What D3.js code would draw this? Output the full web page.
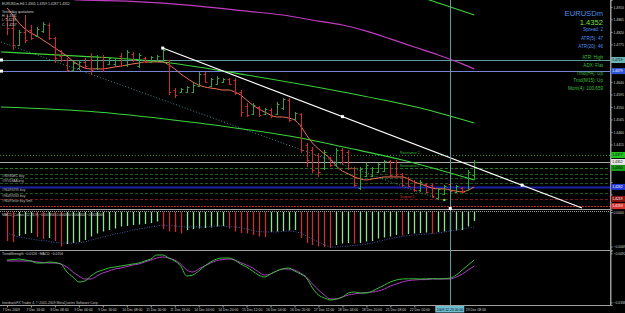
<!DOCTYPE html>
<html>
<head>
<meta charset="utf-8">
<script src="https://cdn.jsdelivr.net/npm/d3@7"></script>
<style>
  body { margin: 0; background: #000; overflow: hidden; }
  svg { display: block; }
  text { font-family: "Liberation Sans", Arial, sans-serif; }
</style>
</head>
<body>
<div id="chart"></div>
<script>
// EURUSDm H4 bars, 7 Dec - 23 Dec 2009
const barOpen = [
  1.4870, 1.4834, 1.4773, 1.4820, 1.4827, 1.4805, 1.4823, 1.4845, 1.4798, 1.4733,
  1.4719, 1.4683, 1.4690, 1.4712, 1.4719, 1.4690, 1.4730, 1.4705, 1.4705, 1.4733,
  1.4701, 1.4741, 1.4697, 1.4726, 1.4712, 1.4719, 1.4719, 1.4719, 1.4611, 1.4604,
  1.4604, 1.4604, 1.4625, 1.4669, 1.4625, 1.4633, 1.4640, 1.4651, 1.4647, 1.4604,
  1.4553, 1.4525, 1.4550, 1.4525, 1.4539, 1.4525, 1.4546, 1.4575, 1.4507, 1.4525,
  1.4413, 1.4395, 1.4377, 1.4330, 1.4366, 1.4341, 1.4395, 1.4388, 1.4330, 1.4258,
  1.4301, 1.4301, 1.4316, 1.4319, 1.4355, 1.4352, 1.4309, 1.4294, 1.4283, 1.4251,
  1.4273, 1.4269, 1.4222, 1.4237, 1.4273, 1.4244, 1.4258, 1.4251, 1.4305
];
const barHigh = [
  1.4881, 1.4881, 1.4827, 1.4881, 1.4845, 1.4838, 1.4856, 1.4852, 1.4802, 1.4755,
  1.4726, 1.4712, 1.4719, 1.4726, 1.4744, 1.4737, 1.4737, 1.4730, 1.4726, 1.4744,
  1.4755, 1.4748, 1.4744, 1.4730, 1.4733, 1.4737, 1.4762, 1.4719, 1.4618, 1.4618,
  1.4625, 1.4636, 1.4676, 1.4676, 1.4654, 1.4661, 1.4654, 1.4654, 1.4654, 1.4611,
  1.4564, 1.4564, 1.4553, 1.4546, 1.4546, 1.4568, 1.4582, 1.4582, 1.4532, 1.4528,
  1.4420, 1.4406, 1.4384, 1.4395, 1.4370, 1.4402, 1.4402, 1.4395, 1.4334, 1.4334,
  1.4348, 1.4334, 1.4348, 1.4359, 1.4359, 1.4359, 1.4312, 1.4298, 1.4287, 1.4287,
  1.4276, 1.4276, 1.4258, 1.4269, 1.4276, 1.4269, 1.4262, 1.4323, 1.4359
];
const barLow = [
  1.4809, 1.4755, 1.4769, 1.4780, 1.4791, 1.4802, 1.4816, 1.4791, 1.4708, 1.4712,
  1.4676, 1.4676, 1.4683, 1.4690, 1.4665, 1.4683, 1.4676, 1.4701, 1.4697, 1.4694,
  1.4694, 1.4712, 1.4690, 1.4708, 1.4708, 1.4712, 1.4712, 1.4593, 1.4582, 1.4600,
  1.4600, 1.4600, 1.4622, 1.4636, 1.4622, 1.4629, 1.4636, 1.4629, 1.4593, 1.4514,
  1.4514, 1.4521, 1.4514, 1.4521, 1.4510, 1.4521, 1.4539, 1.4496, 1.4503, 1.4384,
  1.4334, 1.4312, 1.4298, 1.4323, 1.4334, 1.4334, 1.4341, 1.4323, 1.4262, 1.4251,
  1.4298, 1.4298, 1.4312, 1.4316, 1.4298, 1.4298, 1.4262, 1.4262, 1.4244, 1.4244,
  1.4240, 1.4222, 1.4215, 1.4233, 1.4244, 1.4240, 1.4240, 1.4251, 1.4287
];
const barClose = [
  1.4834, 1.4773, 1.4820, 1.4791, 1.4798, 1.4831, 1.4849, 1.4798, 1.4726, 1.4719,
  1.4683, 1.4708, 1.4712, 1.4697, 1.4683, 1.4730, 1.4690, 1.4726, 1.4719, 1.4701,
  1.4748, 1.4719, 1.4737, 1.4712, 1.4730, 1.4733, 1.4755, 1.4604, 1.4593, 1.4615,
  1.4622, 1.4629, 1.4669, 1.4640, 1.4651, 1.4654, 1.4651, 1.4633, 1.4600, 1.4532,
  1.4521, 1.4557, 1.4521, 1.4543, 1.4517, 1.4561, 1.4579, 1.4503, 1.4528, 1.4395,
  1.4359, 1.4323, 1.4316, 1.4388, 1.4341, 1.4395, 1.4352, 1.4330, 1.4269, 1.4327,
  1.4341, 1.4330, 1.4345, 1.4355, 1.4305, 1.4309, 1.4269, 1.4265, 1.4251, 1.4280,
  1.4244, 1.4229, 1.4255, 1.4265, 1.4247, 1.4265, 1.4244, 1.4316, 1.4352
];
// fast moving average (salmon line)
const maFast = [
  1.4906, 1.4881, 1.4852, 1.4831, 1.4816, 1.4805, 1.4791, 1.4777, 1.4762, 1.4748,
  1.4733, 1.4715, 1.4701, 1.4690, 1.4687, 1.4687, 1.4687, 1.4690, 1.4694, 1.4697,
  1.4701, 1.4705, 1.4708, 1.4712, 1.4712, 1.4712, 1.4712, 1.4701, 1.4687, 1.4669,
  1.4654, 1.4640, 1.4629, 1.4622, 1.4618, 1.4615, 1.4611, 1.4611, 1.4604, 1.4593,
  1.4575, 1.4557, 1.4543, 1.4532, 1.4521, 1.4514, 1.4514, 1.4510, 1.4503, 1.4482,
  1.4449, 1.4420, 1.4399, 1.4381, 1.4363, 1.4337, 1.4319, 1.4309, 1.4298, 1.4291,
  1.4287, 1.4291, 1.4294, 1.4298, 1.4298, 1.4298, 1.4298, 1.4291, 1.4280, 1.4273,
  1.4265, 1.4258, 1.4255, 1.4255, 1.4251, 1.4247, 1.4244, 1.4251, 1.4262
];
// slow average (magenta) and the green lines, given at a few bars
const slowBars = [8, 12, 20, 26, 32, 40, 46, 52, 56, 60, 64, 68, 72, 76, 78];
const slowVals = [1.4950, 1.4935, 1.4931, 1.4924, 1.4913, 1.4895, 1.4881, 1.4859, 1.4845, 1.4823, 1.4795, 1.4766, 1.4737, 1.4705, 1.4687];
const topGreenBars = [66, 70, 74, 78];
const topGreenVals = [1.4971, 1.4939, 1.4910, 1.4881];
const midGreenBars = [-1, 12, 26, 40, 57, 69, 78];
const midGreenVals = [1.4748, 1.4733, 1.4712, 1.4665, 1.4600, 1.4546, 1.4492];
const lowGreenBars = [-1, 15, 32, 49, 57, 66, 78];
const lowGreenVals = [1.4550, 1.4532, 1.4492, 1.4438, 1.4402, 1.4359, 1.4287];
const dotLineBars = [-1, 72];
const dotLineVals = [1.4784, 1.4219];
const trendBars = [26, 96];
const trendVals = [1.4762, 1.4186];
const trendMarks = [26, 56, 86];

// horizontal levels
const levelPrices = [1.4719, 1.4679, 1.4377, 1.4352, 1.4330, 1.4309, 1.4294, 1.4276, 1.4262, 1.4240, 1.4219, 1.4193];
const levelKinds = ['hiY', 'loY', 'r2', 'bid', 'r1', 'order', 'order', 'order', 'pivot', 'order', 's1', 'sl'];
const leftNotes = ['', '', '', '', '', '#96930EC buy', '#97018AA buy', '', '#96499295 buy', '#96499263 buy', '#9649 blue buy limit', ''];
const rightNotes = ['', '', 'Resistance 2', '', 'Resistance 1', '', '', '', '', '', 'Support 1', ''];
const boxKinds = ['hiY', 'loY', 'r2', 'bid', 'r1', 'pivot', 's1', 'sl'];

const priceTicks = [1.4910, 1.4865, 1.4820, 1.4775, 1.4730, 1.4685, 1.4640, 1.4595, 1.4550, 1.4505, 1.4460, 1.4415, 1.4370, 1.4325, 1.4280, 1.4235, 1.4190];

// MACD_Colour histogram and signal
const macdHist = [
  -0.0058, -0.0060, -0.0048, -0.0044, -0.0042, -0.0050, -0.0054, -0.0052, -0.0058, -0.0069,
  -0.0064, -0.0062, -0.0060, -0.0056, -0.0049, -0.0043, -0.0039, -0.0036, -0.0033, -0.0029,
  -0.0028, -0.0026, -0.0025, -0.0024, -0.0022, -0.0019, -0.0034, -0.0039, -0.0040, -0.0043,
  -0.0036, -0.0034, -0.0033, -0.0032, -0.0031, -0.0029, -0.0028, -0.0033, -0.0039, -0.0042,
  -0.0043, -0.0046, -0.0049, -0.0050, -0.0040, -0.0039, -0.0038, -0.0037, -0.0036, -0.0052,
  -0.0062, -0.0066, -0.0069, -0.0070, -0.0072, -0.0066, -0.0063, -0.0062, -0.0063, -0.0062,
  -0.0059, -0.0058, -0.0053, -0.0051, -0.0049, -0.0046, -0.0047, -0.0044, -0.0043, -0.0042,
  -0.0041, -0.0043, -0.0040, -0.0039, -0.0038, -0.0037, -0.0036, -0.0029, -0.0018
];
const macdSignal = [
  -0.0042, -0.0046, -0.0050, -0.0052, -0.0054, -0.0056, -0.0057, -0.0059, -0.0061, -0.0062,
  -0.0062, -0.0062, -0.0062, -0.0060, -0.0056, -0.0053, -0.0050, -0.0047, -0.0044, -0.0042,
  -0.0039, -0.0036, -0.0034, -0.0032, -0.0030, -0.0028, -0.0026, -0.0027, -0.0028, -0.0029,
  -0.0030, -0.0030, -0.0030, -0.0030, -0.0029, -0.0028, -0.0028, -0.0029, -0.0030, -0.0031,
  -0.0034, -0.0037, -0.0039, -0.0040, -0.0040, -0.0040, -0.0039, -0.0038, -0.0039, -0.0042,
  -0.0048, -0.0054, -0.0060, -0.0066, -0.0070, -0.0070, -0.0069, -0.0068, -0.0067, -0.0066,
  -0.0064, -0.0062, -0.0059, -0.0056, -0.0053, -0.0051, -0.0049, -0.0047, -0.0046, -0.0045,
  -0.0044, -0.0043, -0.0042, -0.0040, -0.0038, -0.0036, -0.0034, -0.0032, -0.0030
];
const macdTicks = [0, -0.0069];

// TrendStrength panel
const trendStrength = [
  -0.0126, -0.0124, -0.0121, -0.0126, -0.0131, -0.0141, -0.0141, -0.0136, -0.0139, -0.0146,
  -0.0186, -0.0211, -0.0236, -0.0231, -0.0206, -0.0186, -0.0176, -0.0166, -0.0161, -0.0156,
  -0.0151, -0.0146, -0.0141, -0.0131, -0.0121, -0.0101, -0.0101, -0.0116, -0.0131, -0.0156,
  -0.0206, -0.0201, -0.0181, -0.0156, -0.0136, -0.0121, -0.0116, -0.0116, -0.0126, -0.0146,
  -0.0161, -0.0181, -0.0201, -0.0211, -0.0196, -0.0181, -0.0171, -0.0166, -0.0181, -0.0196,
  -0.0216, -0.0266, -0.0301, -0.0316, -0.0326, -0.0321, -0.0311, -0.0291, -0.0286, -0.0291,
  -0.0291, -0.0281, -0.0266, -0.0251, -0.0236, -0.0226, -0.0221, -0.0220, -0.0220, -0.0221,
  -0.0220, -0.0219, -0.0220, -0.0219, -0.0216, -0.0201, -0.0176, -0.0151, -0.0126
];
const trendMacd = [
  -0.0131, -0.0131, -0.0131, -0.0131, -0.0131, -0.0136, -0.0139, -0.0141, -0.0141, -0.0146,
  -0.0161, -0.0186, -0.0206, -0.0221, -0.0221, -0.0206, -0.0191, -0.0181, -0.0171, -0.0166,
  -0.0159, -0.0151, -0.0146, -0.0136, -0.0126, -0.0116, -0.0111, -0.0116, -0.0126, -0.0146,
  -0.0176, -0.0186, -0.0171, -0.0156, -0.0141, -0.0129, -0.0124, -0.0121, -0.0126, -0.0139,
  -0.0151, -0.0166, -0.0186, -0.0201, -0.0196, -0.0181, -0.0171, -0.0171, -0.0176, -0.0191,
  -0.0211, -0.0246, -0.0276, -0.0301, -0.0321, -0.0321, -0.0311, -0.0301, -0.0296, -0.0291,
  -0.0289, -0.0286, -0.0281, -0.0271, -0.0256, -0.0246, -0.0236, -0.0229, -0.0226, -0.0224,
  -0.0224, -0.0221, -0.0221, -0.0221, -0.0221, -0.0211, -0.0196, -0.0176, -0.0156
];
const trendTicks = [-0.0092, -0.0338];

// time axis
const timeTickBars = [0, 4, 8, 12, 16, 20, 24, 28, 32, 36, 40, 44, 48, 52, 56, 60, 64, 68, 72, 76];
const timeTickLabels = ['7 Dec 2009', '7 Dec 16:00', '8 Dec 08:00', '9 Dec 00:00', '9 Dec 16:00', '10 Dec 08:00',
  '11 Dec 00:00', '11 Dec 16:00', '14 Dec 04:00', '14 Dec 20:00', '15 Dec 12:00', '16 Dec 04:00', '16 Dec 20:00',
  '17 Dec 12:00', '18 Dec 04:00', '18 Dec 20:00', '21 Dec 08:00', '22 Dec 00:00', '22 Dec 16:00', '23 Dec 08:00'];
const cursorBar = 74;
const cursorLabel = '2009.12.23 00:00';

const yesterdayLines = ['Yesterday quotations:', 'H: 1.4331', 'L: 1.4218', 'C: 1.4257'];
const infoLines = ['Spread: 2', 'ATR(5): 47', 'ATR(20): 46'];
const statusLines = ['ATR: High', 'ADX: Flat', 'Trnd(H4): Up', 'Trnd(M15): Up', 'Mom(4): 100.659'];

const W = 625, H = 313, axisX = 610;
const upColor = '#34a534', downColor = '#d42a2a';
const small = 3.4;
const crisp = v => Math.round(v) + 0.5;
const f4 = d3.format('.4f');

const x = d3.scaleLinear().domain([0, 100]).range([7, 606]);
const priceY = d3.scaleLinear().domain([1.4179, 1.4935]).range([210, 0]);
const macdY = d3.scaleLinear().domain([-0.0076, 0]).range([250, 212]);
const trendY = d3.scaleLinear().domain([-0.0351, -0.0081]).range([305, 251]);

const svg = d3.select('#chart').append('svg').attr('width', W).attr('height', H);
svg.append('rect').attr('width', W).attr('height', H).attr('fill', '#000');

const defs = svg.append('defs');
function addClip(id, y0, h) {
    defs.append('clipPath').attr('id', id).append('rect')
        .attr('x', 0).attr('y', y0).attr('width', axisX).attr('height', h);
}
addClip('cMain', 0, 209);
addClip('cMacd', 211, 39);
addClip('cTrend', 251, 54);

const pairs = (bars, vals) => bars.map((b, k) => [b, vals[k]]);
const lineOf = (scale) => d3.line().x(d => x(d[0])).y(d => scale(d[1]));
const allBars = d3.range(barClose.length);

// ---------- price window ----------
const main = svg.append('g').attr('clip-path', 'url(#cMain)');

const levelStyle = {
    hiY:   { stroke: '#5f9ea0', dash: null, w: 1, box: '#6cb6b6', ink: '#000' },
    loY:   { stroke: '#7482d2', dash: null, w: 1, box: '#2f55d8', ink: '#fff' },
    r2:    { stroke: '#2e8c2e', dash: '1,2', w: 1, box: '#22c422', ink: '#000', note: '#3fbf3f' },
    bid:   { stroke: '#a8a8a8', dash: null, w: 1, box: '#e6e6e6', ink: '#000' },
    r1:    { stroke: '#1f7d1f', dash: '3,2', w: 1, box: '#179a17', ink: '#000', note: '#3fbf3f' },
    order: { stroke: '#1c5a1c', dash: '3,2', w: 1 },
    pivot: { stroke: '#1c22a8', dash: null, w: 2, box: '#2438d6', ink: '#fff' },
    s1:    { stroke: '#7c1818', dash: '3,2', w: 1, box: '#8b1010', ink: '#fff', note: '#c03030' },
    sl:    { stroke: '#c42a2a', dash: '2,1', w: 1, box: '#d63434', ink: '#fff' }
};

main.selectAll('line.level')
    .data(levelPrices)
    .enter().append('line')
    .attr('class', 'level')
    .attr('x1', 0).attr('x2', axisX)
    .attr('y1', d => crisp(priceY(d))).attr('y2', d => crisp(priceY(d)))
    .attr('stroke', (d, i) => levelStyle[levelKinds[i]].stroke)
    .attr('stroke-width', (d, i) => levelStyle[levelKinds[i]].w)
    .attr('stroke-dasharray', (d, i) => levelStyle[levelKinds[i]].dash);

// object handles on the two selected lines
main.selectAll('rect.handle')
    .data(levelPrices.slice(0, 2))
    .enter().append('rect')
    .attr('x', 0).attr('y', d => priceY(d) - 1.5)
    .attr('width', 3).attr('height', 3).attr('fill', '#fff');

main.selectAll('text.lnote')
    .data(levelPrices)
    .enter().append('text')
    .attr('x', 2).attr('y', d => priceY(d) + 3.6)
    .attr('font-size', small).attr('fill', '#bdbdbd')
    .text((d, i) => leftNotes[i]);

main.selectAll('text.rnote')
    .data(levelPrices)
    .enter().append('text')
    .attr('x', 400).attr('y', d => priceY(d) - 1)
    .attr('font-size', small)
    .attr('fill', (d, i) => levelStyle[levelKinds[i]].note || '#888')
    .text((d, i) => rightNotes[i]);

main.append('path')
    .attr('d', lineOf(priceY)(pairs(dotLineBars, dotLineVals)))
    .attr('fill', 'none').attr('stroke', '#3f8f8f').attr('stroke-dasharray', '1,2');

[[topGreenBars, topGreenVals], [midGreenBars, midGreenVals], [lowGreenBars, lowGreenVals]].forEach(function (g) {
    main.append('path')
        .attr('d', lineOf(priceY).curve(d3.curveMonotoneX)(pairs(g[0], g[1])))
        .attr('fill', 'none').attr('stroke', '#3cd43c').attr('stroke-width', 1.1);
});

main.append('path')
    .attr('d', lineOf(priceY).curve(d3.curveMonotoneX)(pairs(slowBars, slowVals)))
    .attr('fill', 'none').attr('stroke', '#c23cc2').attr('stroke-width', 1.2);

main.append('path')
    .attr('d', lineOf(priceY).curve(d3.curveMonotoneX)(allBars.map(i => [i, maFast[i]])))
    .attr('fill', 'none').attr('stroke', '#f2735a').attr('stroke-width', 1);

const ohlc = main.selectAll('g.bar')
    .data(allBars)
    .enter().append('g')
    .attr('class', 'bar')
    .attr('stroke', i => barClose[i] >= barOpen[i] ? upColor : downColor)
    .attr('stroke-width', 1);
ohlc.append('line')
    .attr('x1', i => crisp(x(i))).attr('x2', i => crisp(x(i)))
    .attr('y1', i => priceY(barHigh[i])).attr('y2', i => priceY(barLow[i]));
ohlc.append('line')
    .attr('x1', i => crisp(x(i)) - 2).attr('x2', i => crisp(x(i)))
    .attr('y1', i => crisp(priceY(barOpen[i]))).attr('y2', i => crisp(priceY(barOpen[i])));
ohlc.append('line')
    .attr('x1', i => crisp(x(i))).attr('x2', i => crisp(x(i)) + 2)
    .attr('y1', i => crisp(priceY(barClose[i]))).attr('y2', i => crisp(priceY(barClose[i])));

// trend line with its anchor marks
const trendLine = d3.scaleLinear().domain(trendBars).range(trendVals);
main.append('path')
    .attr('d', lineOf(priceY)(pairs(trendBars, trendVals)))
    .attr('stroke', '#fff').attr('stroke-width', 1.2).attr('fill', 'none');
main.selectAll('rect.tmark')
    .data(trendMarks)
    .enter().append('rect')
    .attr('x', b => x(b) - 1.5).attr('y', b => priceY(trendLine(b)) - 1.5)
    .attr('width', 3).attr('height', 3).attr('fill', '#fff');

// entry arrow under bar 73
main.append('circle')
    .attr('cx', x(73)).attr('cy', priceY(barLow[73]) + 5).attr('r', 1.3).attr('fill', '#3cf03c');

// ---------- MACD window ----------
const macd = svg.append('g').attr('clip-path', 'url(#cMacd)');
macd.selectAll('line.hist')
    .data(allBars)
    .enter().append('line')
    .attr('x1', i => crisp(x(i))).attr('x2', i => crisp(x(i)))
    .attr('y1', macdY(0)).attr('y2', i => macdY(macdHist[i]))
    .attr('stroke-width', 1.3)
    .attr('stroke', i => (i > 0 && macdHist[i] > macdHist[i - 1]) ? '#8fe38f' : '#c63232');
macd.append('path')
    .attr('d', lineOf(macdY)(allBars.map(i => [i, macdSignal[i]])))
    .attr('fill', 'none').attr('stroke', '#4a58a8').attr('stroke-dasharray', '1,1.5');

// ---------- TrendStrength window ----------
const trend = svg.append('g').attr('clip-path', 'url(#cTrend)');
trend.append('path')
    .attr('d', lineOf(trendY).curve(d3.curveMonotoneX)(allBars.map(i => [i, trendMacd[i]])))
    .attr('fill', 'none').attr('stroke', '#b23cc8').attr('stroke-width', 1);
trend.append('path')
    .attr('d', lineOf(trendY).curve(d3.curveMonotoneX)(allBars.map(i => [i, trendStrength[i]])))
    .attr('fill', 'none').attr('stroke', '#38c038').attr('stroke-width', 1);

// ---------- frames ----------
svg.append('line').attr('x1', 0).attr('x2', axisX).attr('y1', 209.5).attr('y2', 209.5).attr('stroke', '#a0a0a0');
svg.append('line').attr('x1', 0).attr('x2', axisX).attr('y1', 211.5).attr('y2', 211.5)
    .attr('stroke', '#9a9a9a').attr('stroke-dasharray', '1,1');
svg.append('line').attr('x1', 0).attr('x2', axisX).attr('y1', 250.5).attr('y2', 250.5).attr('stroke', '#a0a0a0');
svg.append('line').attr('x1', 0).attr('x2', axisX).attr('y1', 305.5).attr('y2', 305.5).attr('stroke', '#a0a0a0');

// cursor
svg.append('line')
    .attr('x1', crisp(x(cursorBar))).attr('x2', crisp(x(cursorBar)))
    .attr('y1', 0).attr('y2', 305).attr('stroke', '#5f9ea0');
svg.append('rect').attr('x', x(cursorBar) - 1.5).attr('y', 207).attr('width', 3).attr('height', 3).attr('fill', '#fff');

// ---------- axes ----------
function styleAxis(g) {
    g.select('.domain').attr('stroke', '#9a9a9a');
    g.selectAll('.tick line').attr('stroke', '#9a9a9a');
    g.selectAll('.tick text').attr('fill', '#d0d0d0').attr('font-size', small)
        .attr('font-family', '"Liberation Sans", Arial, sans-serif');
}
const boxed = levelPrices.map((p, i) => i).filter(i => boxKinds.indexOf(levelKinds[i]) >= 0);
const boxYs = boxed.map(i => priceY(levelPrices[i]));

const priceAxis = svg.append('g').attr('transform', `translate(${axisX + 0.5},0)`)
    .call(d3.axisRight(priceY).tickValues(priceTicks).tickFormat(f4).tickSize(2).tickPadding(1))
    .call(styleAxis);
// tick labels hidden under the coloured price boxes
priceAxis.selectAll('.tick text')
    .filter(d => boxYs.some(by => Math.abs(by - priceY(d)) < 5.5))
    .remove();
svg.append('g').attr('transform', `translate(${axisX + 0.5},0)`)
    .call(d3.axisRight(macdY).tickValues(macdTicks).tickFormat(f4).tickSize(2).tickPadding(1))
    .call(styleAxis);
svg.append('g').attr('transform', `translate(${axisX + 0.5},0)`)
    .call(d3.axisRight(trendY).tickValues(trendTicks).tickFormat(f4).tickSize(2).tickPadding(1))
    .call(styleAxis);
svg.append('line').attr('x1', axisX + 0.5).attr('x2', axisX + 0.5).attr('y1', 0).attr('y2', 306).attr('stroke', '#9a9a9a');

const cursorLeft = x(cursorBar) - 15, cursorRight = x(cursorBar) + 14;
const timeAxis = svg.append('g').attr('transform', 'translate(0,305.5)')
    .call(d3.axisBottom(x).tickValues(timeTickBars).tickFormat((d, i) => timeTickLabels[i]).tickSize(2).tickPadding(1))
    .call(styleAxis);
timeAxis.select('.domain').remove();
timeAxis.selectAll('.tick text').attr('text-anchor', 'start').attr('dx', -5);
// labels hidden by the cursor time box: the one under it goes, the next one starts after it
timeAxis.selectAll('.tick')
    .filter(d => x(d) - 5 > cursorLeft - 20 && x(d) - 5 < cursorLeft)
    .select('text').remove();
timeAxis.selectAll('.tick text')
    .filter(d => x(d) - 5 >= cursorLeft && x(d) - 5 < cursorRight)
    .attr('dx', d => cursorRight + 1 - x(d));

// price boxes on the axis
const boxG = svg.selectAll('g.pbox').data(boxed).enter().append('g')
    .attr('transform', i => `translate(${axisX + 1},${priceY(levelPrices[i])})`);
boxG.append('rect').attr('x', 0).attr('y', -3).attr('width', 14).attr('height', 6)
    .attr('fill', i => levelStyle[levelKinds[i]].box);
boxG.append('text').attr('x', 1.2).attr('y', 1.3).attr('font-size', small)
    .attr('fill', i => levelStyle[levelKinds[i]].ink)
    .text(i => f4(levelPrices[i]));

// cursor time box
svg.append('rect').attr('x', cursorLeft).attr('y', 306).attr('width', 29).attr('height', 6.5).attr('fill', '#6cbcd2');
svg.append('text').attr('x', cursorLeft + 1.5).attr('y', 311).attr('font-size', small).attr('fill', '#000').text(cursorLabel);

// ---------- texts ----------
const last = barClose.length - 1;
svg.append('text').attr('x', 2).attr('y', 5).attr('font-size', small).attr('fill', '#d0d0d0')
    .text(`EURUSDm,H4  ${f4(barOpen[last])} ${f4(barHigh[last])} ${f4(barLow[last])} ${f4(barClose[last])}`);
svg.selectAll('text.yq').data(yesterdayLines).enter().append('text')
    .attr('x', 2).attr('y', (d, i) => 12.5 + i * 4.4)
    .attr('font-size', small).attr('fill', '#d0d0d0').text(d => d);

svg.append('text').attr('x', 603).attr('y', 15.5).attr('text-anchor', 'end')
    .attr('font-size', 7.6).attr('fill', '#4f8fe6').text('EURUSDm');
svg.append('text').attr('x', 603).attr('y', 25).attr('text-anchor', 'end')
    .attr('font-size', 7.6).attr('fill', '#6fe03a').text(f4(barClose[last]));
svg.selectAll('text.info').data(infoLines).enter().append('text')
    .attr('x', 603).attr('y', (d, i) => [31, 40, 48][i]).attr('text-anchor', 'end')
    .attr('font-size', 4.6).attr('fill', '#4f8fe6').text(d => d);
svg.selectAll('text.status').data(statusLines).enter().append('text')
    .attr('x', 603).attr('y', (d, i) => 59 + i * 7.8).attr('text-anchor', 'end')
    .attr('font-size', 4.6).attr('fill', '#3fbf3f').text(d => d);

const f6 = d3.format('.6f');
svg.append('text').attr('x', 2).attr('y', 215.5).attr('font-size', small).attr('fill', '#d0d0d0')
    .text(`MACD_Colour (12,26,9) ${f6(macdHist[last])} 0.000000 0.000000 ${f6(macdSignal[last])}`);
svg.append('text').attr('x', 2).attr('y', 255).attr('font-size', small).attr('fill', '#d0d0d0')
    .text(`TrendStrength ${f4(trendStrength[last])} ~MACD ${f4(trendMacd[last])}`);
svg.append('text').attr('x', 2).attr('y', 303.5).attr('font-size', small).attr('fill', '#c0c0c0')
    .text('InterbankFX Trader 4, \u00a9 2001-2009 MetaQuotes Software Corp.');
</script>
</body>
</html>
